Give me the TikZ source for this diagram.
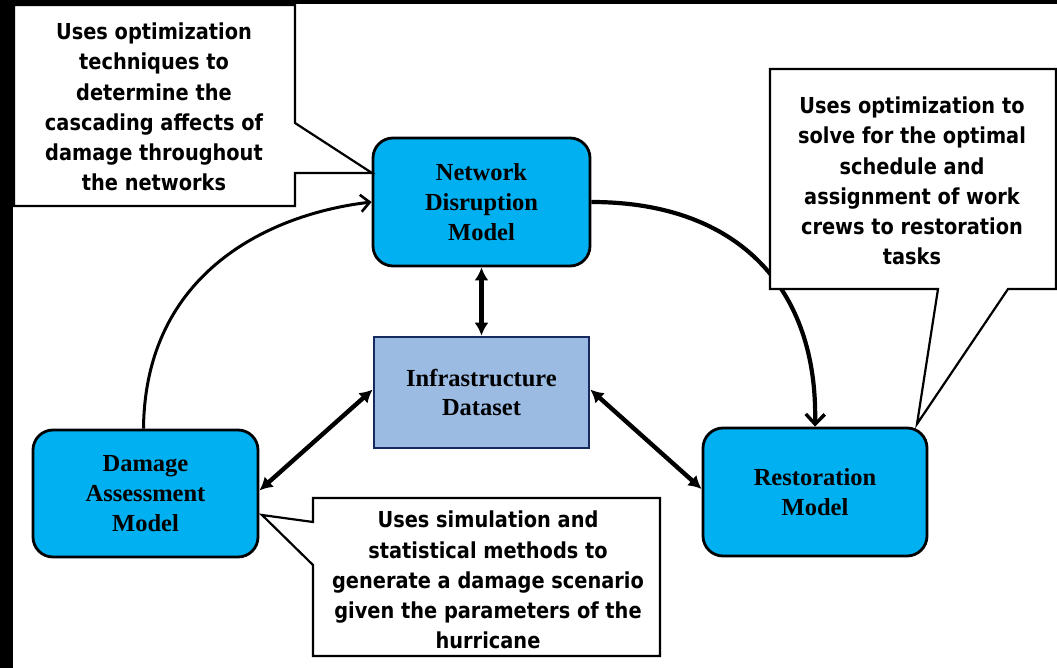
\documentclass[tikz,border=0pt]{standalone}
\usepackage{fontspec}
\setmainfont{Liberation Serif}
\newfontfamily\callfont[FakeStretch=0.88]{DejaVu Sans}
\usetikzlibrary{arrows.meta}
\definecolor{boxcyan}{RGB}{0,176,240}
\definecolor{infrafill}{RGB}{155,187,227}
\definecolor{infraline}{RGB}{22,42,96}
\tikzset{
  model/.style={draw=black, line width=2.8pt, fill=boxcyan, rounded corners=20pt,
    align=center, font=\bfseries\fontsize{24.5}{30}\selectfont, inner sep=0pt},
  dataset/.style={draw=infraline, line width=2.6pt, fill=infrafill,
    align=center, font=\bfseries\fontsize{24.5}{29}\selectfont, inner sep=0pt},
  callout/.style={draw=black, line width=2.2pt, fill=white, line join=miter},
  calltext/.style={align=center, font=\callfont\bfseries\fontsize{22}{30.2}\selectfont, inner sep=0pt},
  flow/.style={line width=3pt, -{Straight Barb[length=9pt,width=17pt,line width=2.6pt]}},
  flowthick/.style={line width=4.2pt, -{Straight Barb[length=10pt,width=19pt,line width=3.4pt]}},
  link/.style={line width=4.4pt, {Latex[length=13pt,width=14pt]}-{Latex[length=13pt,width=14pt]}}
}
\begin{document}
\begin{tikzpicture}[x=1pt,y=-1pt]
\useasboundingbox (0,0) rectangle (1057,668);
\fill[white] (0,0) rectangle (1057,668);
% black scan border
\fill[black] (0,0) rectangle (13,668);
\fill[black] (0,0) rectangle (1057,4);

% model boxes
\node[model, minimum width=217pt, minimum height=128pt] (net) at (481.5,202) {Network\\Disruption\\Model};
\node[dataset, minimum width=215pt, minimum height=111pt] (infra) at (481.5,392.5) {Infrastructure\\Dataset};
\node[model, minimum width=225pt, minimum height=127pt] (dmg) at (145.5,493.5) {Damage\\Assessment\\Model};
\node[model, minimum width=224pt, minimum height=128pt] (rest) at (815,492) {Restoration\\Model};

% curved flows
\draw[flow] ([xshift=-2pt]dmg.north) .. controls (145,272) and (270,214) .. (net.west);
\draw[flowthick] (net.east) .. controls (740,202) and (818,290) .. (rest.north);

% dataset links
\draw[link] (net.south) -- (infra.north);
\draw[link] ([yshift=3pt]infra.west) -- ([yshift=3pt]dmg.east);
\draw[link] ([yshift=3pt]infra.east) -- ([yshift=3pt]rest.west);

% callouts
\coordinate (ltip) at (372,173);
\draw[callout] (14,5) -- (295,5) -- (295,123) -- (ltip) -- (295,173) -- (295,206) -- (14,206) -- cycle;
\node[calltext] (ltext) at (154,107) {Uses optimization\\techniques to\\determine the\\cascading affects of\\damage throughout\\the networks};

\coordinate (rtip) at (917,424);
\draw[callout] (770,69) -- (1056,69) -- (1056,289) -- (1008,289) -- (rtip) -- (938,289) -- (770,289) -- cycle;
\node[calltext] (rtext) at (912,181) {Uses optimization to\\solve for the optimal\\schedule and\\assignment of work\\crews to restoration\\tasks};

\coordinate (btip) at (262,515);
\draw[callout] (313,498) -- (660,498) -- (660,656) -- (313,656) -- (313,565) -- (btip) -- (313,522) -- cycle;
\node[calltext] (btext) at (488,580) {Uses simulation and\\statistical methods to\\generate a damage scenario\\given the parameters of the\\hurricane};
\end{tikzpicture}
\end{document}
